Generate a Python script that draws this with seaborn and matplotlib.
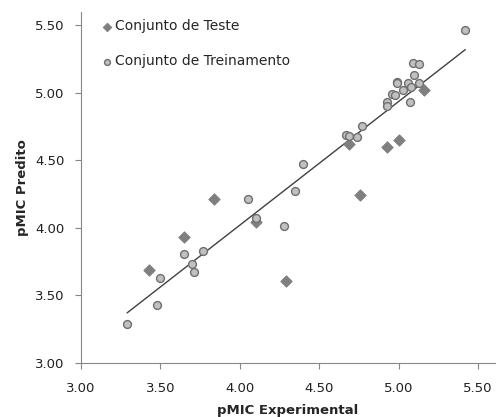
import numpy as np
import pandas as pd
import matplotlib
matplotlib.use("Agg")
import matplotlib.pyplot as plt
import seaborn as sns

# Conjunto de Teste (pMIC experimental, pMIC predito)
test_exp = [3.43, 3.65, 3.84, 4.10, 4.29, 4.69, 4.76, 4.93, 5.00, 5.16]
test_pred = [3.69, 3.93, 4.21, 4.04, 3.61, 4.62, 4.24, 4.60, 4.65, 5.02]

# Conjunto de Treinamento
train_exp = [3.29, 3.48, 3.50, 3.65, 3.70, 3.71, 3.77, 4.05, 4.10, 4.28,
             4.35, 4.40, 4.67, 4.69, 4.74, 4.77, 4.93, 4.93, 4.96, 4.98,
             4.99, 4.99, 5.03, 5.06, 5.08, 5.07, 5.10, 5.09, 5.13, 5.13,
             5.42]
train_pred = [3.29, 3.43, 3.63, 3.81, 3.73, 3.67, 3.83, 4.21, 4.07, 4.01,
              4.27, 4.47, 4.69, 4.68, 4.67, 4.75, 4.93, 4.90, 4.99, 4.98,
              5.08, 5.07, 5.02, 5.07, 5.04, 4.93, 5.13, 5.22, 5.21, 5.07,
              5.46]

ticks = [3.00, 3.50, 4.00, 4.50, 5.00, 5.50]

sns.set_theme(style="ticks")
plt.rcParams["font.family"] = ["DejaVu Sans"]

fig = plt.figure(figsize=(4.96, 4.17), dpi=100)
ax = fig.add_axes([0.1633, 0.1295, 0.8347, 0.8415])

test = pd.DataFrame({"exp": test_exp, "pred": test_pred})
train = pd.DataFrame({"exp": train_exp, "pred": train_pred})
both = pd.concat([test, train], ignore_index=True)

# linear trend line over all compounds
sns.regplot(data=both, x="exp", y="pred", scatter=False, ci=None, ax=ax,
            line_kws={"color": "#404040", "linewidth": 1.0})

sns.scatterplot(data=test, x="exp", y="pred", marker="D", s=34,
                color="#7f7f7f", edgecolor="#7f7f7f", linewidth=0.6,
                label="Conjunto de Teste", ax=ax, zorder=3)
sns.scatterplot(data=train, x="exp", y="pred", marker="o", s=32,
                color="#c0c0c0", edgecolor="#6e6e6e", linewidth=1.0,
                label="Conjunto de Treinamento", ax=ax, zorder=4)

ax.set_xlim(3.0, 5.607)
ax.set_ylim(3.0, 5.596)
ax.set_xticks(ticks)
ax.set_yticks(ticks)
ax.set_xticklabels([f"{t:.2f}" for t in ticks], fontsize=9.5, color="#202020")
ax.set_yticklabels([f"{t:.2f}" for t in ticks], fontsize=9.5, color="#202020")
ax.tick_params(axis="x", length=4, width=0.8, color="#868686", pad=10)
ax.tick_params(axis="y", length=4, width=0.8, color="#868686", pad=8)

for side in ["top", "right"]:
    ax.spines[side].set_visible(False)
for side in ["left", "bottom"]:
    ax.spines[side].set_color("#868686")
    ax.spines[side].set_linewidth(0.8)

ax.set_xlabel("pMIC Experimental", fontsize=9.5, fontweight="bold", labelpad=6)
ax.set_ylabel("pMIC Predito", fontsize=9.5, fontweight="bold", labelpad=4)

leg = ax.legend(loc="upper left", bbox_to_anchor=(0.035, 0.995), frameon=False,
                fontsize=10, labelspacing=1.5, handletextpad=0.1,
                handlelength=0.9, borderaxespad=0.0, markerscale=0.75)

fig.savefig("out.png", dpi=100)
